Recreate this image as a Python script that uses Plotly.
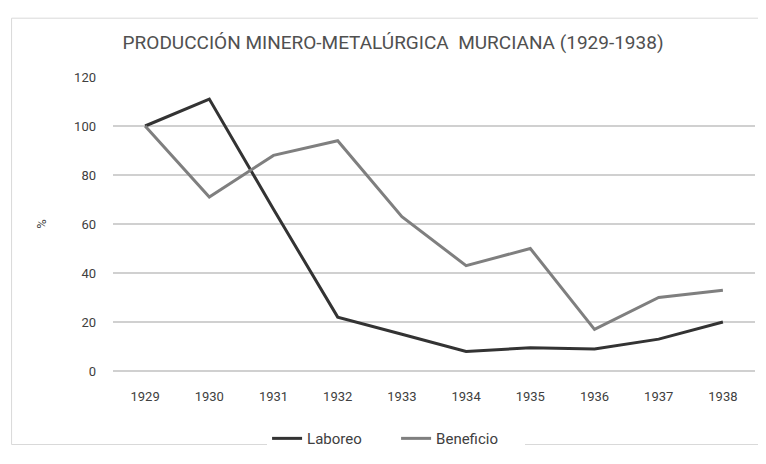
import plotly.graph_objects as go

years = ["1929", "1930", "1931", "1932", "1933", "1934", "1935", "1936", "1937", "1938"]
laboreo = [100, 111, 66, 22, 15, 8, 9.5, 9, 13, 20]
beneficio = [100, 71, 88, 94, 63, 43, 50, 17, 30, 33]
yticks = [0, 20, 40, 60, 80, 100, 120]

FONT = "Roboto, Arial"

fig = go.Figure()
fig.add_trace(go.Scatter(x=years, y=laboreo, mode="lines", name="Laboreo",
                         line=dict(color="#333333", width=3)))
fig.add_trace(go.Scatter(x=years, y=beneficio, mode="lines", name="Beneficio",
                         line=dict(color="#7f7f7f", width=3)))

fig.update_layout(
    width=758, height=456,
    paper_bgcolor="white", plot_bgcolor="white",
    margin=dict(l=105, r=11, t=69, b=93, autoexpand=False),
    font=dict(family=FONT, size=13, color="#404040"),
    title=dict(text="PRODUCCIÓN MINERO-METALÚRGICA  MURCIANA (1929-1938)",
               x=0.508, xanchor="center", y=0.925, yanchor="middle",
               font=dict(family=FONT, size=19, color="#505050")),
    xaxis=dict(type="category", range=[-0.5, 9.5], showgrid=False, showline=False,
               ticks="", ticklabelstandoff=16, automargin=False,
               tickfont=dict(size=13, color="#404040")),
    yaxis=dict(range=[0, 120], tickvals=yticks, showgrid=True, gridcolor="#d0d0d0",
               gridwidth=1.5, zeroline=True, zerolinecolor="#d0d0d0", zerolinewidth=1.5,
               ticks="", ticklabelstandoff=16, automargin=False,
               title=dict(text="%", standoff=24, font=dict(size=13, color="#404040")),
               tickfont=dict(size=13, color="#404040")),
    legend=dict(orientation="h", x=0.24, xanchor="left", y=-0.23, yanchor="middle",
                font=dict(size=15, color="#404040"), entrywidth=84,
                entrywidthmode="pixels"),
    showlegend=True,
)
fig.add_shape(type="rect", xref="paper", yref="paper", x0=-0.158, x1=1.02, y0=-0.25, y1=1.2,
              line=dict(color="#d9d9d9", width=1))

fig.write_html("out.html")
